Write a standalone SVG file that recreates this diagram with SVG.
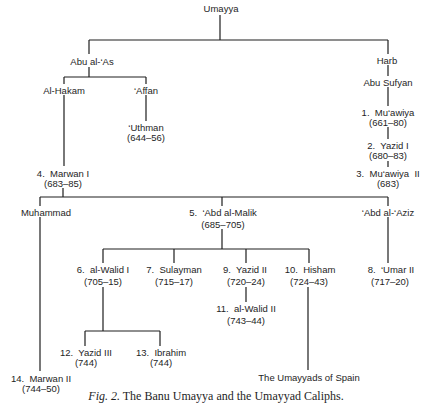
<svg xmlns="http://www.w3.org/2000/svg" width="432" height="417" viewBox="0 0 432 417">
<style>
text{font-family:"Liberation Sans",Arial,sans-serif;font-size:9.5px;fill:#1e1e1e;text-anchor:middle;white-space:pre}
.cap{font-family:"Liberation Serif","Times New Roman",serif;font-size:12px}
.ln{stroke:#1e1e1e;stroke-width:1.2;fill:none}
</style>
<rect width="432" height="417" fill="#fff"/>
<g id="connectors" class="ln">
<path d="M220 15V40M89 40H388M89 40V54M388 40V54"/>
<path d="M89 67V77M64 77H146M64 77V84M146 77V84"/>
<path d="M388 65V76M388 87V106M388 127V139M388 161V167"/>
<path d="M64 95V166M146 95V121"/>
<path d="M63 188V197M40 197H388M40 197V206M222 197V206M388 197V206"/>
<path d="M40 217V371"/>
<path d="M222 229V249M103 249H309M103 249V263M174 249V263M246 249V263M309 249V263"/>
<path d="M388 217V263"/>
<path d="M103 287V331M85 331H160M85 331V346M160 331V346"/>
<path d="M246 287V302M308 287V370"/>
</g>
<g id="umayya"><text x="221" y="11.5">Umayya</text></g>
<g id="abu-al-as"><text x="92" y="64.5">Abu al-‘As</text></g>
<g id="al-hakam"><text x="64" y="93.5">Al-Hakam</text></g>
<g id="affan"><text x="146" y="93.5">‘Affan</text></g>
<g id="uthman"><text x="146" y="130.5">‘Uthman</text><text x="146" y="140.5">(644–56)</text></g>
<g id="harb"><text x="387" y="63.5">Harb</text></g>
<g id="abu-sufyan"><text x="388" y="85.5">Abu Sufyan</text></g>
<g id="muawiya"><text x="388" y="115.5" xml:space="preserve">1.  Mu‘awiya</text><text x="388" y="125.5">(661–80)</text></g>
<g id="yazid-i"><text x="388" y="148.5" xml:space="preserve">2.  Yazid I</text><text x="388" y="158.5">(680–83)</text></g>
<g id="muawiya-ii"><text x="388" y="176.5" xml:space="preserve">3.  Mu‘awiya  II</text><text x="388" y="186.5">(683)</text></g>
<g id="marwan-i"><text x="63" y="176.5" xml:space="preserve">4.  Marwan I</text><text x="63" y="186.5">(683–85)</text></g>
<g id="muhammad"><text x="46" y="215.5">Muhammad</text></g>
<g id="abd-al-malik"><text x="223" y="215.5" xml:space="preserve">5.  ‘Abd al-Malik</text><text x="223" y="227.5">(685–705)</text></g>
<g id="abd-al-aziz"><text x="388" y="215.5">‘Abd al-‘Aziz</text></g>
<g id="al-walid-i"><text x="103" y="272.5" xml:space="preserve">6.  al-Walid I</text><text x="103" y="284.5">(705–15)</text></g>
<g id="sulayman"><text x="174" y="272.5" xml:space="preserve">7.  Sulayman</text><text x="174" y="284.5">(715–17)</text></g>
<g id="yazid-ii"><text x="245" y="272.5" xml:space="preserve">9.  Yazid II</text><text x="246" y="284.5">(720–24)</text></g>
<g id="hisham"><text x="310" y="272.5" xml:space="preserve">10.  Hisham</text><text x="309" y="284.5">(724–43)</text></g>
<g id="umar-ii"><text x="391" y="272.5" xml:space="preserve">8.  ‘Umar II</text><text x="390" y="284.5">(717–20)</text></g>
<g id="al-walid-ii"><text x="246" y="311.5" xml:space="preserve">11.  al-Walid II</text><text x="246" y="323.5">(743–44)</text></g>
<g id="yazid-iii"><text x="86" y="355.5" xml:space="preserve">12.  Yazid III</text><text x="86" y="365.5">(744)</text></g>
<g id="ibrahim"><text x="161" y="355.5" xml:space="preserve">13.  Ibrahim</text><text x="161" y="365.5">(744)</text></g>
<g id="marwan-ii"><text x="41" y="381.5" xml:space="preserve">14.  Marwan II</text><text x="41" y="391.5">(744–50)</text></g>
<g id="spain"><text x="309" y="380.5">The Umayyads of Spain</text></g>
<text class="cap" x="216" y="399.5"><tspan font-style="italic">Fig. 2.</tspan> The Banu Umayya and the Umayyad Caliphs.</text>
</svg>
